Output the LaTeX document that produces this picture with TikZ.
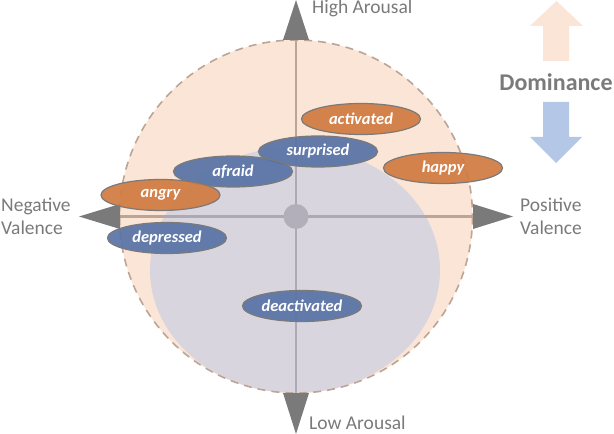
\documentclass[tikz,border=0pt]{standalone}
\usepackage{fontspec}
\setmainfont{Carlito}
\usetikzlibrary{shapes.geometric}
\definecolor{peach}{HTML}{FBE5D6}
\definecolor{tanline}{HTML}{BDA596}
\definecolor{grayreg}{HTML}{D8D5DF}
\definecolor{grayline}{HTML}{ADA8B2}
\definecolor{dotc}{HTML}{B3AFBA}
\definecolor{txtgray}{HTML}{7A7A7A}
\definecolor{orng}{HTML}{D07A40}
\definecolor{blu}{HTML}{5873A6}
\definecolor{domblue}{HTML}{B4C7E7}
\tikzset{
  emo/.style={ellipse, draw=txtgray, line width=1.2bp, fill opacity=0.92, text opacity=1,
    minimum width=119bp, minimum height=31bp, inner sep=0pt,
    font=\fontsize{16.5bp}{20bp}\selectfont\bfseries\itshape, text=white},
  posemo/.style={emo, fill=orng},
  negemo/.style={emo, fill=blu},
  axlabel/.style={text=txtgray, font=\fontsize{19.5bp}{23bp}\selectfont, inner sep=0pt},
  tri/.style={fill=txtgray, draw=none},
}
\begin{document}
\begin{tikzpicture}[x=1bp,y=-1bp]
\useasboundingbox (0,0) rectangle (614,434);
% big circle
\coordinate (c) at (296,216.5);
\fill[peach] (c) circle[radius=176.5];
% gray region clipped to circle
\begin{scope}
  \clip (c) circle[radius=176.5];
  \fill[grayreg] (295,270) ellipse[x radius=145, y radius=123];
\end{scope}
% axes
\draw[tanline, line width=2.5bp] (119.5,216.5) -- (472.5,216.5);
\draw[tanline, line width=2.5bp] (296,40) -- (296,393);
\begin{scope}
  \clip (295,270) ellipse[x radius=145, y radius=123];
  \draw[grayline, line width=2.5bp] (119.5,216.5) -- (472.5,216.5);
  \draw[grayline, line width=2.5bp] (296,40) -- (296,393);
\end{scope}
\draw[tanline, line width=1.6bp, dash pattern=on 8bp off 6bp] (c) circle[radius=176.5];
\fill[dotc] (c) circle[radius=12.5];
% axis arrow triangles
\fill[tri] (283,40) -- (296,0) -- (309,40) -- cycle;
\fill[tri] (283,393) -- (296,434) -- (309,393) -- cycle;
\fill[tri] (120,204) -- (79,216.5) -- (120,229) -- cycle;
\fill[tri] (473,204) -- (513,216.5) -- (473,229) -- cycle;
% axis labels
\node[axlabel, anchor=west] (ha) at (312,8) {High Arousal};
\node[axlabel, anchor=west] (la) at (309,423) {Low Arousal};
\node[axlabel, anchor=west, align=left] (nv) at (1,216.5) {Negative\\Valence};
\node[axlabel, anchor=west, align=left] (pv) at (520,216.5) {Positive\\Valence};
% dominance
\fill[peach] (543,61) -- (543,26) -- (530,26) -- (556.5,1) -- (583,26) -- (569,26) -- (569,61) -- cycle;
\fill[domblue] (543,102) -- (543,137) -- (530,137) -- (556,163) -- (582,137) -- (569,137) -- (569,102) -- cycle;
\node[text=txtgray, font=\fontsize{24bp}{28bp}\selectfont\bfseries, inner sep=0pt] (dom) at (556,82) {Dominance};
% emotions
\node[posemo] (activated) at (361,119) {activated};
\node[negemo] (surprised) at (318,151.5) {surprised};
\node[negemo] (afraid) at (233,171.5) {afraid};
\node[posemo] (happy) at (443,168) {happy};
\node[posemo] (angry) at (160.5,195) {angry};
\node[negemo] (depressed) at (167,238) {depressed};
\node[negemo] (deactivated) at (302,306) {deactivated};
\end{tikzpicture}
\end{document}
